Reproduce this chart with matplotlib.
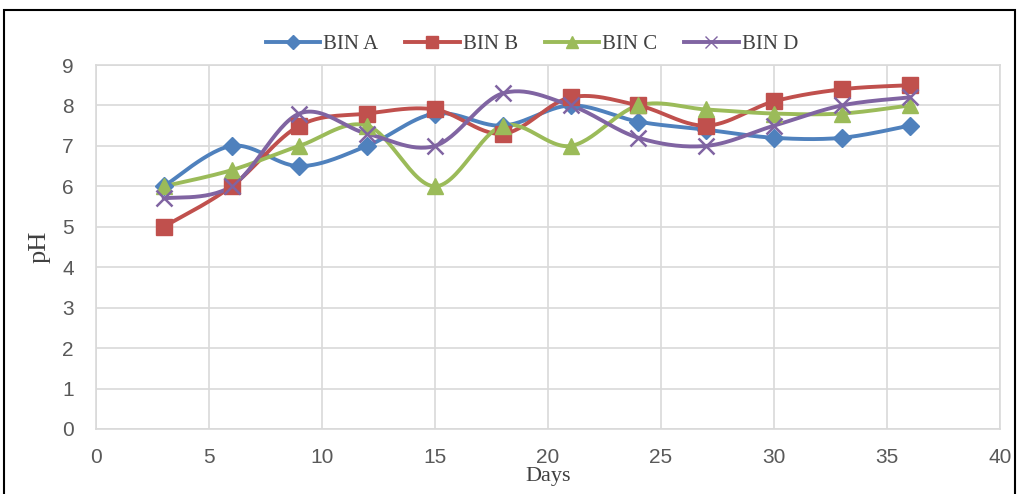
import numpy as np
import matplotlib
matplotlib.use("Agg")
import matplotlib.pyplot as plt
from matplotlib.patches import Rectangle

# pH readings per bin over the composting period
days = [3, 6, 9, 12, 15, 18, 21, 24, 27, 30, 33, 36]
bin_a = [6.0, 7.0, 6.5, 7.0, 7.8, 7.5, 8.0, 7.6, 7.4, 7.2, 7.2, 7.5]
bin_b = [5.0, 6.0, 7.5, 7.8, 7.9, 7.3, 8.2, 8.0, 7.5, 8.1, 8.4, 8.5]
bin_c = [6.0, 6.4, 7.0, 7.5, 6.0, 7.5, 7.0, 8.0, 7.9, 7.8, 7.8, 8.0]
bin_d = [5.7, 6.0, 7.8, 7.3, 7.0, 8.3, 8.0, 7.2, 7.0, 7.5, 8.0, 8.2]
labels = ["BIN A", "BIN B", "BIN C", "BIN D"]
x_ticks = [0, 5, 10, 15, 20, 25, 30, 35, 40]
y_ticks = [0, 1, 2, 3, 4, 5, 6, 7, 8, 9]

colors = ["#4F81BD", "#C0504D", "#9BBB59", "#8064A2"]
markers = ["D", "s", "^", "x"]
msizes = [9, 11, 11, 11]


def smooth(x, y, steps=30):
    """Bezier smoothing through every point, spreadsheet style."""
    x = np.asarray(x, float)
    y = np.asarray(y, float)
    pts = np.column_stack([x, y])
    n = len(pts)
    out = [pts[0]]
    for i in range(n - 1):
        p0 = pts[i - 1] if i > 0 else pts[i]
        p1 = pts[i]
        p2 = pts[i + 1]
        p3 = pts[i + 2] if i + 2 < n else pts[i + 1]
        c1 = p1 + (p2 - p0) / 6.0
        c2 = p2 - (p3 - p1) / 6.0
        t = np.linspace(0, 1, steps)[1:, None]
        seg = ((1 - t) ** 3) * p1 + 3 * ((1 - t) ** 2) * t * c1 \
            + 3 * (1 - t) * t ** 2 * c2 + t ** 3 * p2
        out.extend(seg)
    out = np.array(out)
    return out[:, 0], out[:, 1]


fig = plt.figure(figsize=(10.19, 4.94), dpi=100)
ax = fig.add_axes([0.0942, 0.1316, 0.8872, 0.7368])

# outer chart frame
fig.patches.append(Rectangle((0.004, -0.05), 0.992, 1.03, transform=fig.transFigure,
                             fill=False, edgecolor="black", linewidth=1.5))

handles = []
for ys, c, m, ms, lab in zip([bin_a, bin_b, bin_c, bin_d], colors, markers, msizes, labels):
    sx, sy = smooth(days, ys)
    ax.plot(sx, sy, color=c, linewidth=2.8, zorder=3)
    ax.plot(days, ys, linestyle="none", marker=m, markersize=ms, color=c,
            markeredgecolor=c, markeredgewidth=1.8 if m == "x" else 1, zorder=4)
    h, = ax.plot([], [], color=c, linewidth=2.8, marker=m, markersize=ms * 0.8,
                 markeredgecolor=c, label=lab)
    handles.append(h)

ax.set_xlim(0, 40)
ax.set_ylim(0, 9)
ax.set_xticks(x_ticks)
ax.set_yticks(y_ticks)
ax.grid(True, color="#d9d9d9", linewidth=1.2)
ax.set_axisbelow(True)
for s in ax.spines.values():
    s.set_color("#d9d9d9")
    s.set_linewidth(1.2)
ax.tick_params(axis="x", length=0, labelsize=15, labelcolor="#595959", pad=14)
ax.tick_params(axis="y", length=0, labelsize=15, labelcolor="#595959", pad=16)
for t in ax.get_xticklabels() + ax.get_yticklabels():
    t.set_family(["Liberation Sans", "DejaVu Sans"])

ax.set_xlabel("Days", family="Liberation Serif", fontsize=16, color="#404040", labelpad=0)
ax.set_ylabel("pH", family="Liberation Serif", fontsize=19, color="#404040", labelpad=8)

fig.legend(handles=handles, loc="center", bbox_to_anchor=(0.522, 0.91), ncol=4, frameon=False,
           prop={"family": "Liberation Serif", "size": 15}, labelcolor="#404040",
           handlelength=2.6, handletextpad=0.15, columnspacing=1.3)

fig.savefig("out.png", dpi=100)
